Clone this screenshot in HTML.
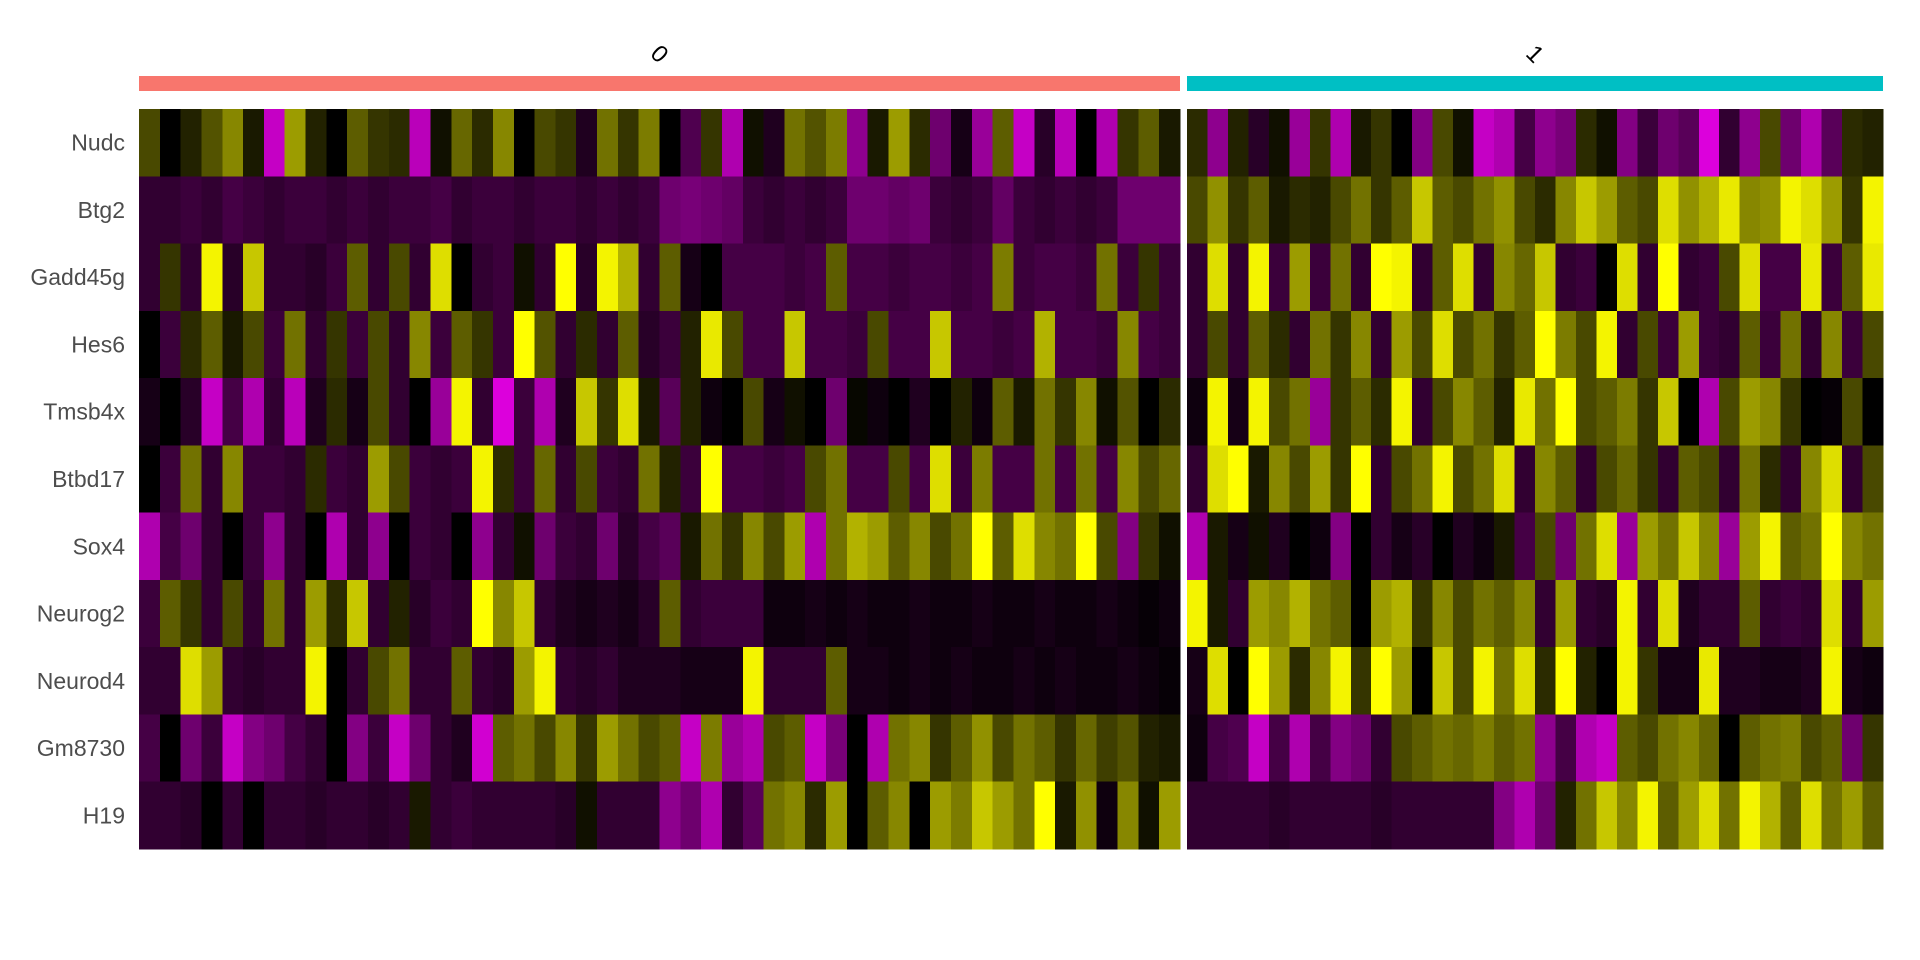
<!DOCTYPE html>
<html><head><meta charset="utf-8"><style>
body{margin:0;background:#fff;width:1920px;height:960px;overflow:hidden;}
svg{display:block}
text{font-family:"Liberation Sans",sans-serif;}
</style></head><body>
<svg id="chart" width="1920" height="960" xmlns="http://www.w3.org/2000/svg" shape-rendering="crispEdges"></svg>
<script>
const genes = ["Nudc","Btg2","Gadd45g","Hes6","Tmsb4x","Btbd17","Sox4","Neurog2","Neurod4","Gm8730","H19"];
const groupLabels = ["0","1"];
const group0 = [
[0.8,0,0.4,0.9,1.4,0.3,-2,1.6,0.4,0,1,0.6,0.5,-1.9,0.2,1.1,0.5,1.4,0,0.8,0.6,-0.4,1.2,0.6,1.3,0,-0.9,0.6,-1.8,0.2,-0.4,1.2,0.9,1.3,-1.5,0.3,1.6,0.5,-1.2,-0.3,-1.6,1,-2,-0.5,-1.9,0,-1.8,0.6,1,0.3],
[-0.6,-0.6,-0.7,-0.6,-0.8,-0.7,-0.6,-0.7,-0.7,-0.6,-0.7,-0.6,-0.7,-0.7,-0.8,-0.6,-0.7,-0.7,-0.6,-0.7,-0.7,-0.6,-0.7,-0.6,-0.7,-1.2,-1.3,-1.2,-1.1,-0.7,-0.6,-0.7,-0.6,-0.7,-1.2,-1.2,-1.1,-1.2,-0.7,-0.6,-0.7,-1.1,-0.7,-0.6,-0.7,-0.6,-0.7,-1.2,-1.2,-1.2],
[-0.6,0.6,-0.6,2.4,-0.5,2,-0.6,-0.6,-0.5,-0.7,1,-0.6,0.8,-0.6,2.2,0,-0.6,-0.7,0.2,-0.6,2.5,-0.5,2.4,1.8,-0.6,1,-0.3,0,-0.8,-0.8,-0.8,-0.7,-0.8,1,-0.8,-0.8,-0.7,-0.8,-0.8,-0.7,-0.8,1.3,-0.7,-0.8,-0.8,-0.7,1.2,-0.7,0.6,-0.7],
[0,-0.7,0.5,1,0.3,0.8,-0.7,1.2,-0.6,0.6,-0.7,0.8,-0.6,1.4,-0.7,1,0.6,-0.7,2.5,0.9,-0.6,0.5,-0.6,1,-0.5,-0.7,0.4,2.3,0.8,-0.8,-0.8,2,-0.8,-0.8,-0.7,0.8,-0.8,-0.8,2,-0.8,-0.8,-0.7,-0.8,1.8,-0.8,-0.8,-0.7,1.4,-0.8,-0.7],
[-0.3,0,-0.5,-2,-0.8,-1.8,-0.6,-1.9,-0.4,0.5,-0.3,0.8,-0.6,0,-1.6,2.4,-0.6,-2.2,-0.7,-1.8,-0.4,2,0.6,2.2,0.3,-1,0.4,-0.2,0,0.8,-0.3,0.2,0,-1.2,0.1,-0.2,0,-0.4,0,0.4,-0.2,1,0.3,1.2,0.6,1.4,0.2,0.9,0,0.5],
[0,-0.7,1.2,-0.6,1.4,-0.7,-0.7,-0.6,0.5,-0.7,-0.6,1.6,0.8,-0.7,-0.6,-0.7,2.4,0.5,-0.7,1.1,-0.6,0.8,-0.7,-0.6,1.2,0.4,-0.7,2.5,-0.8,-0.8,-0.7,-0.8,0.8,1.2,-0.8,-0.8,0.8,-0.8,2.2,-0.7,1.3,-0.8,-0.8,1.2,-0.8,1.2,-0.8,1.4,0.8,1.1],
[-1.8,-0.8,-1.2,-0.6,0,-0.7,-1.5,-0.6,0,-1.8,-0.6,-1.5,0,-0.7,-0.6,0,-1.5,-0.6,0.2,-1.2,-0.7,-0.6,-1.2,-0.5,-0.8,-1,0.3,1.2,0.6,1.4,0.8,1.6,-1.8,1.2,1.8,1.6,1,1.4,0.8,1.2,2.5,1,2.2,1.4,1.2,2.5,0.8,-1.4,0.6,0.2],
[-0.7,1,0.6,-0.6,0.8,-0.6,1.2,-0.6,1.6,0.5,2,-0.6,0.4,-0.5,-0.7,-0.6,2.5,1.4,2,-0.6,-0.4,-0.3,-0.4,-0.3,-0.5,1,-0.6,-0.7,-0.7,-0.7,-0.2,-0.2,-0.3,-0.2,-0.3,-0.2,-0.2,-0.3,-0.2,-0.2,-0.3,-0.2,-0.2,-0.3,-0.2,-0.2,-0.3,-0.2,-0.1,-0.2],
[-0.6,-0.6,2.2,1.6,-0.6,-0.5,-0.6,-0.6,2.4,0,-0.6,0.8,1.2,-0.6,-0.6,1,-0.6,-0.5,1.6,2.4,-0.6,-0.5,-0.6,-0.4,-0.4,-0.4,-0.3,-0.3,-0.3,2.4,-0.6,-0.6,-0.6,1,-0.3,-0.3,-0.2,-0.3,-0.2,-0.3,-0.2,-0.2,-0.3,-0.2,-0.3,-0.2,-0.2,-0.3,-0.2,-0.1],
[-0.8,0,-1.2,-0.7,-2,-1.4,-1.2,-0.8,-0.6,0,-1.4,-0.7,-2,-1.2,-0.6,-0.4,-2.1,1,1.2,0.8,1.4,0.6,1.6,1.2,0.8,1,-2,1.3,-1.6,-1.8,0.8,1,-2,-1.3,0,-1.8,1.2,1.4,0.6,1,1.5,0.8,1.2,1,0.6,1.1,0.7,0.9,0.4,0.3],
[-0.6,-0.6,-0.5,0,-0.6,0,-0.6,-0.6,-0.5,-0.6,-0.6,-0.5,-0.6,0.3,-0.6,-0.7,-0.6,-0.6,-0.6,-0.6,-0.5,0.2,-0.6,-0.6,-0.6,-1.5,-1.2,-1.8,-0.6,-1,1.2,1.4,0.5,1.6,0,1,1.4,0,1.6,1.3,2,1.6,1.2,2.5,0.3,1.5,-0.2,1.4,0.2,1.6]
];
const group1 = [
[0.5,-1.5,0.4,-0.5,0.2,-1.6,0.6,-1.8,0.3,0.6,0,-1.4,0.8,0.2,-2,-1.8,-0.8,-1.5,-1.3,0.5,0.2,-1.4,-0.7,-1.2,-1,-2.2,-0.6,-1.5,0.8,-1.2,-1.8,-1,0.5,0.4],
[0.8,1.5,0.6,1,0.3,0.5,0.4,0.8,1.2,0.6,1,2,1,0.8,1.2,1.5,0.8,0.5,1.4,2,1.6,1,0.8,2.2,1.5,1.8,2.3,1.4,1.5,2.4,2.2,1.6,0.6,2.4],
[-0.6,2.2,-0.6,2.4,-0.7,1.6,-0.7,1.2,-0.6,2.5,2.4,-0.6,1,2.2,-0.6,1.4,1.1,2,-0.6,-0.7,0,2.2,-0.6,2.5,-0.6,-0.7,0.8,2.2,-0.8,-0.8,2.3,-0.7,1,2.3],
[-0.6,0.8,-0.6,1,0.5,-0.6,1.2,0.6,1.4,-0.6,1.6,0.8,2.2,0.8,1.2,0.6,1,2.5,1.3,0.8,2.4,-0.6,0.8,-0.7,1.6,-0.7,-0.6,1,-0.7,1.2,-0.6,1.4,-0.7,0.8],
[-0.2,2.4,-0.3,2.4,0.8,1.2,-1.6,0.6,1,0.5,2.4,-0.6,0.8,1.4,1,0.4,2.3,1.2,2.5,0.8,1,1.3,0.6,2,0,-1.8,0.8,1.6,1.4,0.6,0,-0.1,0.8,0],
[-0.6,2.2,2.5,0.3,1.4,0.8,1.6,0.6,2.5,-0.6,0.8,1.2,2.4,0.8,1.2,2.2,-0.6,1.4,1,-0.6,0.8,1.1,0.6,-0.6,1,0.8,-0.6,1.2,0.5,-0.6,1.4,2.2,-0.6,0.8],
[-1.8,0.3,-0.3,0.2,-0.4,0,-0.2,-1.4,0,-0.6,-0.3,-0.5,0,-0.4,-0.2,0.3,-0.8,0.8,-1.2,1.2,2.2,-1.6,1.6,1.2,2,1.4,-1.6,1.6,2.4,1,1.2,2.5,1.4,1.2],
[2.4,0.3,-0.6,1.6,1.4,1.8,1.2,1,0,1.6,1.8,0.6,1.4,0.8,1.2,1,1.4,-0.6,1.6,-0.6,-0.5,2.4,-0.6,2.2,-0.4,-0.6,-0.6,1,-0.6,-0.7,-0.6,2.2,-0.6,1.6],
[-0.3,2.2,0,2.5,1.6,0.5,1.4,2.4,0.6,2.5,1.6,0,2,0.8,2.4,1.2,2.2,0.5,2.5,0.4,0,2.4,0.6,-0.3,-0.3,2.3,-0.4,-0.4,-0.3,-0.3,-0.4,2.4,-0.3,-0.2],
[-0.2,-0.8,-0.9,-2,-0.8,-1.8,-0.8,-1.4,-1.2,-0.6,0.8,1,1.2,1.1,1.3,1,1.2,-1.5,-0.8,-1.8,-2,1,0.8,1.2,1.4,1.1,0,1,1.2,1.3,0.8,1,-1.2,0.6],
[-0.6,-0.6,-0.6,-0.6,-0.5,-0.6,-0.6,-0.6,-0.6,-0.5,-0.6,-0.6,-0.6,-0.6,-0.6,-1.4,-1.8,-1.2,0.4,1.2,2,1.4,2.4,1,1.6,2.2,1.2,2.4,1.8,1,2.2,1.2,1.6,1],
];
const groupColors = ["#F8766D","#00BFC4"];
const NS="http://www.w3.org/2000/svg";
const svg=document.getElementById('chart');
const top0=109, bottom0=849;
const groupX=[[139,1180],[1187,1883]];
const rowH=(bottom0-top0)/genes.length;
function yScale(i){return top0+i*rowH;}
function colorOf(v){
  let t=v/2.5;
  t=Math.max(-1,Math.min(1,t));
  if(t<0){const c=Math.round(255*Math.pow(-t,1.15));return `rgb(${c},0,${c})`;}
  const c=Math.round(255*Math.pow(t,1.1));return `rgb(${c},${c},0)`;
}
function mk(tag,attrs){const e=document.createElementNS(NS,tag);for(const k in attrs)e.setAttribute(k,attrs[k]);svg.appendChild(e);return e;}
[group0,group1].forEach((data,g)=>{
  const [x0,x1]=groupX[g];
  const n=data[0].length;
  const w=(x1-x0)/n;
  const bar=mk('rect',{x:x0,y:76,width:x1-x0,height:15,fill:groupColors[g]});
  
  
  const lx=(x0+x1)/2, ly=62;
  const t=mk('text',{x:lx,y:ly,'font-size':24,'text-anchor':'middle',transform:`rotate(45 ${lx} ${ly-8})`,fill:'#000'});
  t.textContent=groupLabels[g];
  
  
  data.forEach((row,r)=>{
    row.forEach((v,c)=>{
      const cell=mk('rect',{x:(x0+c*w).toFixed(2),y:yScale(r).toFixed(2),width:(w+0.6).toFixed(2),height:(rowH+0.6).toFixed(2),fill:colorOf(v)});
      
      
    });
  });
});
genes.forEach((gname,r)=>{
  const t=mk('text',{x:125,y:(yScale(r)+rowH/2+8).toFixed(1),'font-size':23,'text-anchor':'end',fill:'#4d4d4d'});
  t.textContent=gname;
  
  
});
</script>
</body></html>
